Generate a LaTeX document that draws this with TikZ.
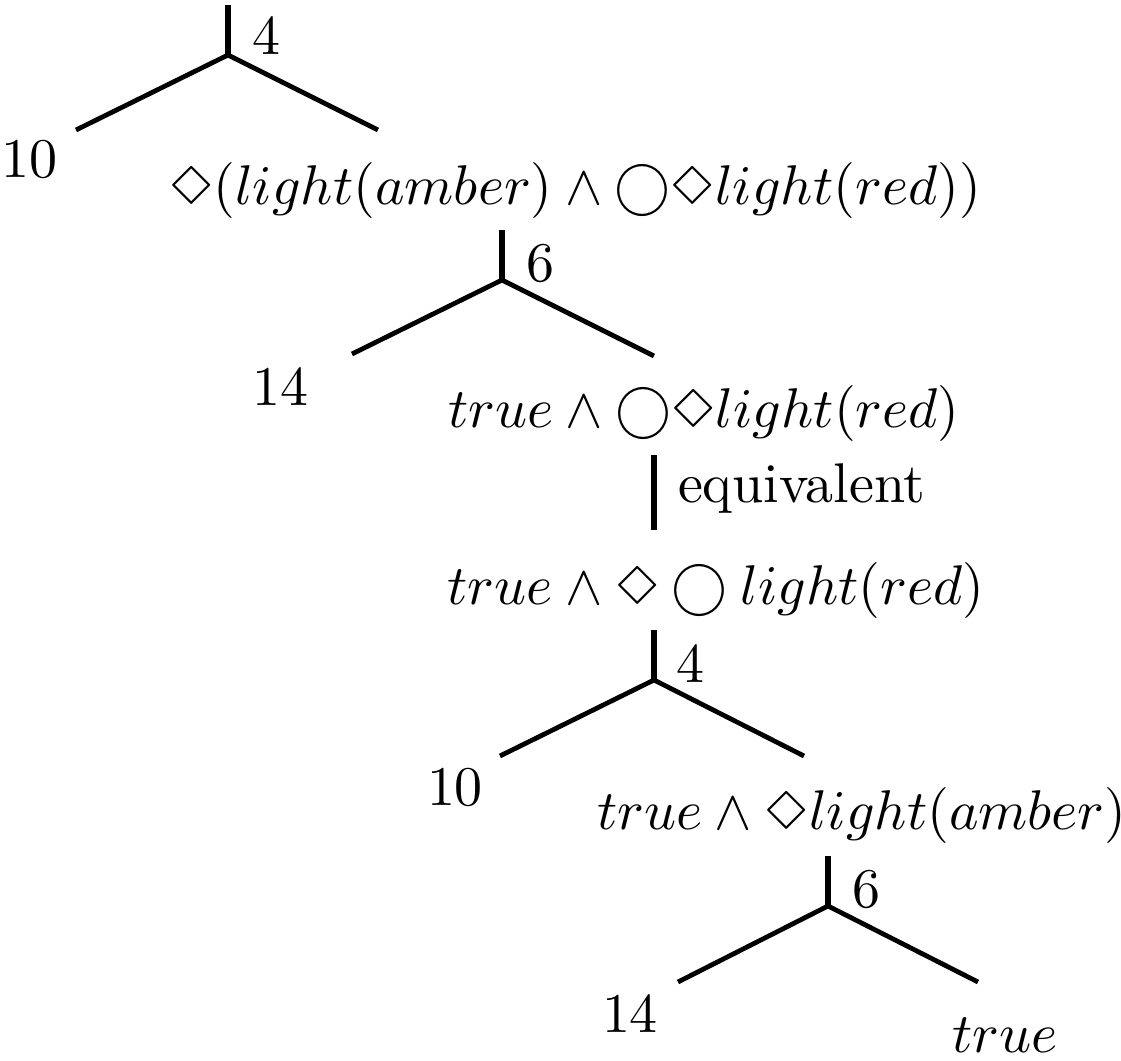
\documentclass[tikz,border=0pt]{standalone}
\usepackage{latexsym}
\begin{document}
\begin{tikzpicture}[x=0.1786pt,y=-0.1786pt,
  stem/.style={line width=0.95pt},
  branch/.style={line width=0.85pt},
  eqline/.style={line width=1.1pt},
  lbl/.style={inner sep=0pt,anchor=base}]
\useasboundingbox (0,0) rectangle (1121,1061);
% tree 1
\coordinate (t1) at (228,5);
\coordinate (f1) at (228,55);
\coordinate (l1) at (76,130);
\coordinate (r1) at (378,130);
\node[lbl] (n4a) at (266,55) {4};
\node[lbl] (n10a) at (29,178) {10};
\node[lbl] (F1) at (575,205) {$\Diamond(light(amber) \wedge \bigcirc\Diamond light(red))$};
\draw[stem] (t1) -- (f1);
\draw[branch] (f1) -- (l1);
\draw[branch] (f1) -- (r1);
% tree 2
\coordinate (t2) at (502,230);
\coordinate (f2) at (502,280);
\coordinate (l2) at (352,354);
\coordinate (r2) at (654,356);
\node[lbl] (n6a) at (541,282) {6};
\node[lbl] (n14a) at (280,406) {14};
\node[lbl] (F2) at (704,428) {$true \wedge \bigcirc\Diamond light(red)$};
\draw[stem] (t2) -- (f2);
\draw[branch] (f2) -- (l2);
\draw[branch] (f2) -- (r2);
% equivalence
\coordinate (e1) at (654,455);
\coordinate (e2) at (654,530);
\draw[eqline] (e1) -- (e2);
\node[inner sep=0pt,anchor=base west] (eq) at (677,503) {equivalent};
\node[lbl] (F3) at (716,605) {$true \wedge \Diamond \bigcirc light(red)$};
% tree 3
\coordinate (t3) at (654,630);
\coordinate (f3) at (654,680);
\coordinate (l3) at (500,756);
\coordinate (r3) at (804,756);
\node[lbl] (n4b) at (690,683) {4};
\node[lbl] (n10b) at (455,806) {10};
\node[lbl] (F4) at (862,830) {$true \wedge \Diamond light(amber)$};
\draw[stem] (t3) -- (f3);
\draw[branch] (f3) -- (l3);
\draw[branch] (f3) -- (r3);
% tree 4
\coordinate (t4) at (828,856);
\coordinate (f4) at (828,906);
\coordinate (l4) at (678,982);
\coordinate (r4) at (978,982);
\node[lbl] (n6b) at (866,908) {6};
\node[lbl] (n14b) at (630,1033) {14};
\node[lbl] (tr) at (1005,1053) {$true$};
\draw[stem] (t4) -- (f4);
\draw[branch] (f4) -- (l4);
\draw[branch] (f4) -- (r4);
\end{tikzpicture}
\end{document}
